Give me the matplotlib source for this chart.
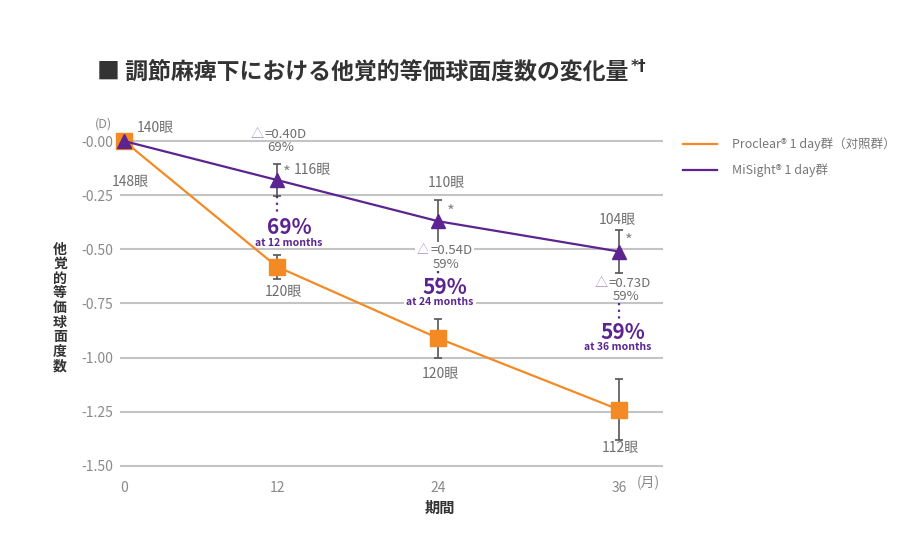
import numpy as np
import matplotlib
matplotlib.use("Agg")
import matplotlib.pyplot as plt
from matplotlib.lines import Line2D

plt.rcParams['font.family'] = ['Noto Sans CJK JP', 'DejaVu Sans']

# --- data ---
months = [0, 12, 24, 36]
proclear = [0.00, -0.58, -0.91, -1.24]
proclear_err = [0.0, 0.055, 0.09, 0.14]
misight = [0.00, -0.18, -0.37, -0.51]
misight_err = [0.0, 0.075, 0.10, 0.10]

yticks = [0.0, -0.25, -0.50, -0.75, -1.00, -1.25, -1.50]
ytick_labels = ["-0.00", "-0.25", "-0.50", "-0.75", "-1.00", "-1.25", "-1.50"]
xtick_labels = ["0", "12", "24", "36"]

eyes_proclear = ["148眼", "120眼", "120眼", "112眼"]
eyes_misight = ["140眼", "116眼", "110眼", "104眼"]
deltas = ["=0.40D", "=0.54D", "=0.73D"]
delta_pct = ["69%", "59%", "59%"]
big_pct = ["69%", "59%", "59%"]
big_sub = ["at 12 months", "at 24 months", "at 36 months"]

title = "■ 調節麻痺下における他覚的等価球面度数の変化量"
title_mark = "*†"
ylabel = "他覚的等価球面度数"
xlabel = "期間"
legend_labels = ["Proclear® 1 day群（対照群）", "MiSight® 1 day群"]

ORANGE = "#F48A24"
PURPLE = "#5B2490"
LIGHTPURPLE = "#A58BC9"
GRAY = "#6e6e6e"
GRID = "#c4c4c4"

# uneven month spacing in the original drawing (month -> pixel)
knot_m = [-5, 0, 12, 24, 36, 45]
knot_p = [60.25, 124, 277, 438, 619, 754.7]
fwd = lambda x: np.interp(x, knot_m, knot_p)
inv = lambda p: np.interp(p, knot_p, knot_m)

W, H = 915, 535
fig = plt.figure(figsize=(W / 100, H / 100), dpi=100)
ax = fig.add_axes([120 / W, 1 - 470.3 / H, 543 / W, (470.3 - 130.2) / H])
ax.set_xscale('function', functions=(fwd, inv))
ax.set_xlim(-4 / 12.75, 36 + 44 / 15.083)
ax.set_ylim(-1.52, 0.05)

for s in ax.spines.values():
    s.set_visible(False)
ax.set_yticks(yticks)
ax.set_yticklabels(ytick_labels)
ax.set_xticks(months)
ax.set_xticklabels(xtick_labels)
ax.tick_params(length=0, labelsize=10, labelcolor="#8a8a8a")
ax.tick_params(axis='y', pad=5)
ax.tick_params(axis='x', pad=8)
ax.yaxis.grid(True, color=GRID, lw=1.5)
ax.set_axisbelow(True)

# series
ax.errorbar(months[1:], proclear[1:], yerr=proclear_err[1:], fmt='none',
            ecolor="#555555", elinewidth=1.2, capsize=3, capthick=1.2, zorder=3)
ax.errorbar(months[1:], misight[1:], yerr=misight_err[1:], fmt='none',
            ecolor="#555555", elinewidth=1.2, capsize=3, capthick=1.2, zorder=3)
ax.plot(months, proclear, color=ORANGE, lw=1.6, marker='s', ms=11,
        mec=ORANGE, zorder=4, clip_on=False)
ax.plot(months, misight, color=PURPLE, lw=1.6, marker='^', ms=10,
        mec=PURPLE, zorder=5, clip_on=False)


def note(x, y, s, dx, dy, **kw):
    opts = dict(textcoords='offset pixels', ha='center', va='center',
                fontsize=10, color=GRAY)
    opts.update(kw)
    return ax.annotate(s, (x, y), xytext=(dx, dy), **opts)


# eye counts
note(0, 0, eyes_misight[0], 31, 13)
note(0, 0, eyes_proclear[0], 6, -41)
note(12, misight[1], eyes_misight[1], 35, 10)
note(24, misight[2], eyes_misight[2], 8, 38)
note(36, misight[3], eyes_misight[3], -2, 32)
note(12, proclear[1], eyes_proclear[1], 6, -25)
note(24, proclear[2], eyes_proclear[2], 2, -36)
note(36, proclear[3], eyes_proclear[3], 1, -38)

# significance stars
for m, v, dx, dy in [(12, misight[1], 10, 7), (24, misight[2], 13, 9), (36, misight[3], 10, 10)]:
    note(m, v, "*", dx, dy, fontsize=12, color="#888888")

# delta labels and percentages
delta_layout = [  # (delta dy, split dx, pct dx, pct dy)
    (46, -13, 4, 33),
    (-29, -8, 8, -43),
    (-32, -11, 7, -45),
]
big_layout = [  # (dotted top, dotted bottom px below point, big dx, big dy, sub dx, sub dy)
    (16, 36, 12, -47, 12, -63),
    (50, 58, 7, -66, 2, -81),
    (52, 70, 4, -81, -1, -95),
]
for i, m in enumerate(months[1:]):
    v = misight[i + 1]
    ddy, split, pdx, pdy = delta_layout[i]
    bb = dict(boxstyle='square,pad=0.15', fc='white', ec='none') if i == 1 else None
    note(m, v, "△", split, ddy, ha='right', color=LIGHTPURPLE, fontsize=9.5, bbox=bb)
    note(m, v, deltas[i], split, ddy, ha='left', fontsize=9.5, bbox=bb)
    note(m, v, delta_pct[i], pdx, pdy, fontsize=9.5)
    t0, t1, bdx, bdy, sdx, sdy = big_layout[i]
    yy0 = v - t0 / 216.67
    yy1 = v - t1 / 216.67
    ax.plot([m, m], [yy0, yy1], color=PURPLE, lw=1.6, ls=(0, (1, 2)), zorder=3)
    note(m, v, big_pct[i], bdx, bdy, fontsize=15, fontweight='bold', color=PURPLE)
    bb2 = dict(boxstyle='square,pad=0.2', fc='white', ec='none') if i == 1 else None
    note(m, v, big_sub[i], sdx, sdy, fontsize=7.5, fontweight='bold', color=PURPLE,
         bbox=bb2)

# axis texts
fig.text(103 / W, 1 - 124 / H, "(D)", ha='center', va='center', fontsize=9, color="#8a8a8a")
fig.text(648 / W, 1 - 483 / H, "(月)", ha='center', va='center', fontsize=10, color="#8a8a8a")
fig.text(440 / W, 1 - 508 / H, xlabel, ha='center', va='center', fontsize=11,
         fontweight='bold', color="#333333")
fig.text(60 / W, 1 - 308 / H, "\n".join(ylabel), ha='center', va='center', fontsize=10,
         fontweight='bold', color="#333333", linespacing=1.05)
t = fig.text(97 / W, 1 - 72 / H, title, ha='left', va='center', fontsize=16.5,
             fontweight='bold', color="#333333")
fig.canvas.draw()
x_end = t.get_window_extent().x1
fig.text(x_end / W + 0.002, 1 - 66 / H, title_mark, ha='left', va='center', fontsize=11,
         fontweight='bold', color="#333333", family=['DejaVu Sans'])

handles = [Line2D([], [], color=ORANGE, lw=1.6), Line2D([], [], color=PURPLE, lw=1.6)]
fig.legend(handles, legend_labels, loc='upper left', bbox_to_anchor=(672 / W, 1 - 126 / H),
           frameon=False, fontsize=9, labelcolor="#777777", handlelength=2.7,
           handletextpad=1.2, labelspacing=1.0)

fig.savefig("out.png", dpi=100, facecolor='white')
